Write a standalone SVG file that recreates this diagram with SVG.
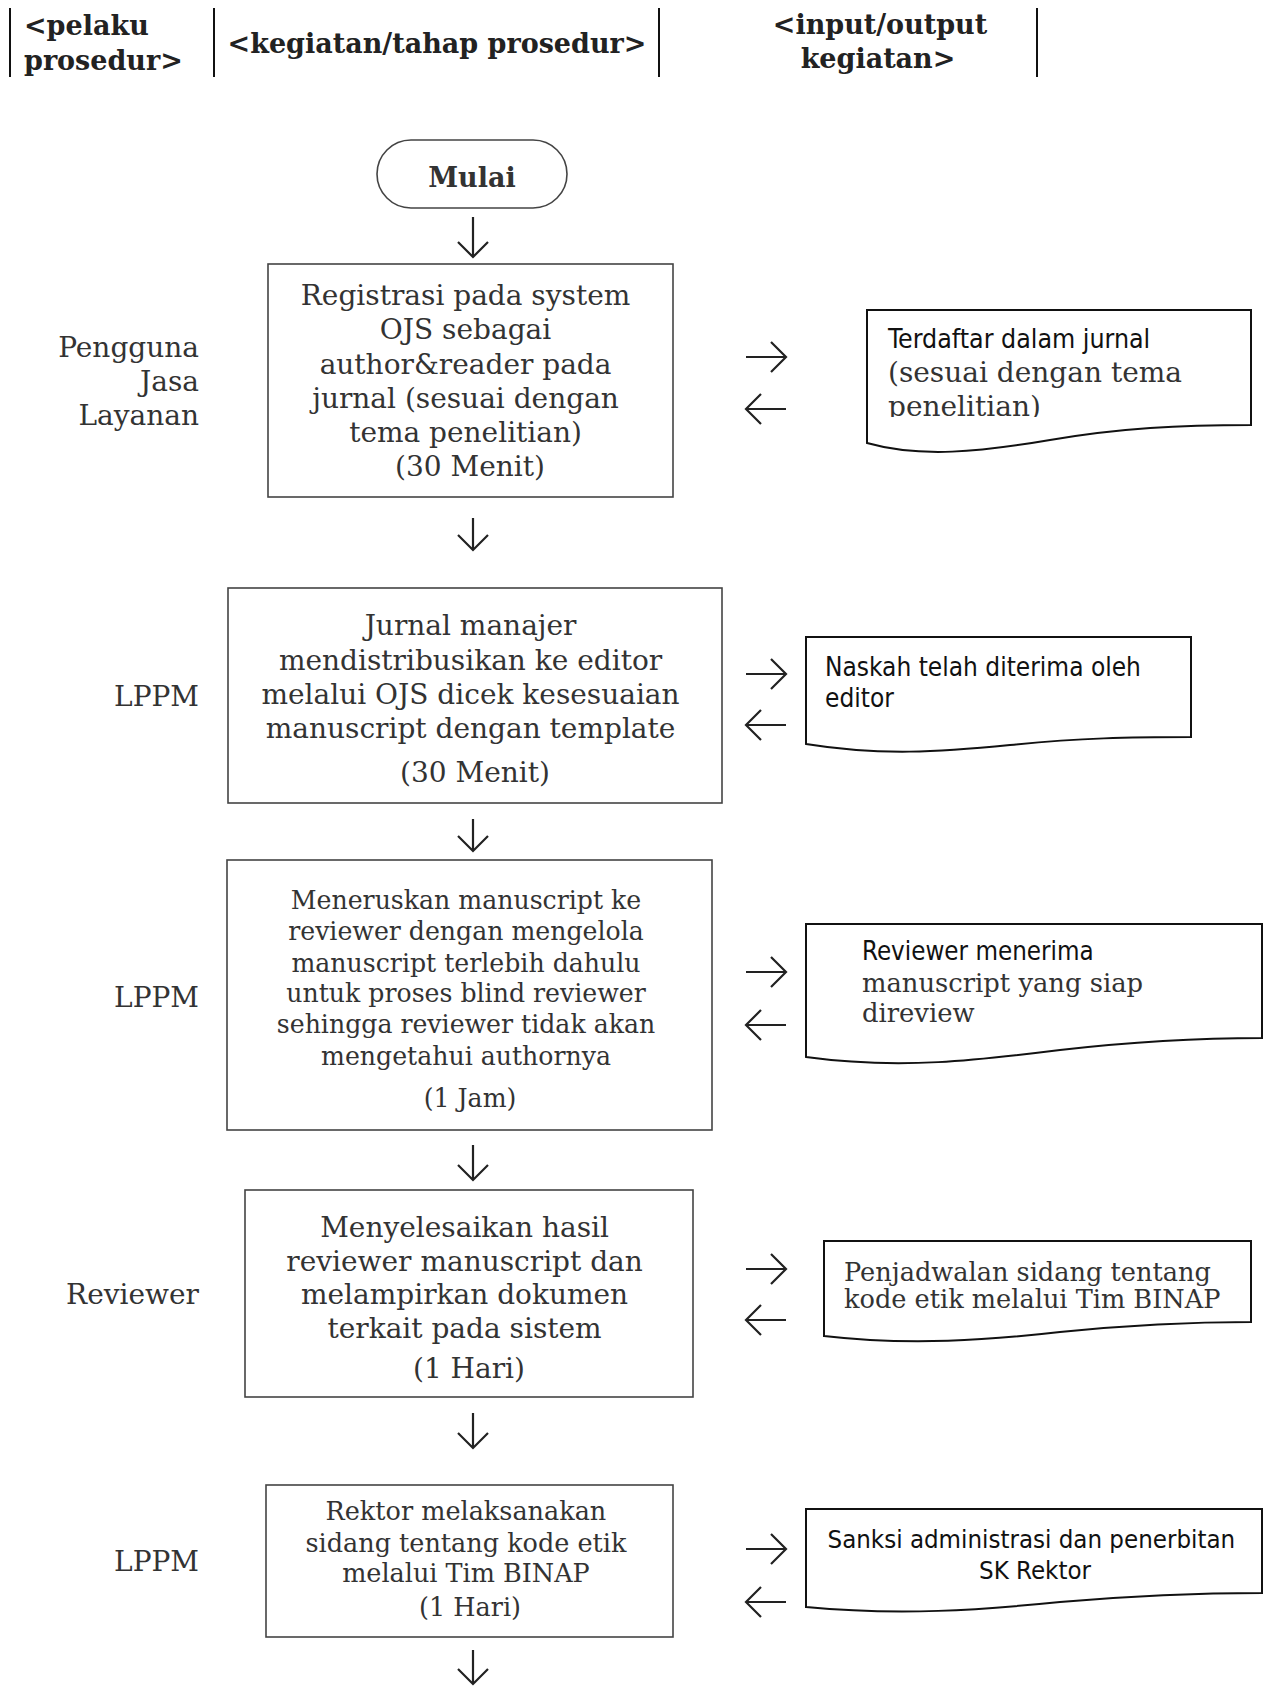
<svg xmlns="http://www.w3.org/2000/svg" width="1264" height="1686" viewBox="0 0 1264 1686">
<style>
.hd{font-family:"DejaVu Serif","Liberation Serif",serif;font-weight:bold;font-size:27px;fill:#222}
.sr{font-family:"DejaVu Serif","Liberation Serif",serif;fill:#333}
.ss{font-family:"DejaVu Sans Condensed","DejaVu Sans","Liberation Sans",sans-serif;fill:#111}
.box{fill:#fff;stroke:#444;stroke-width:1.6}
.doc{fill:#fff;stroke:#111;stroke-width:2}
.ln{stroke:#111;stroke-width:2;fill:none}
.ar{stroke:#222;stroke-width:2.2;fill:none}
.c{text-anchor:middle}
.r{text-anchor:end}
</style>
<defs>
<clipPath id="clip1"><rect x="860" y="300" width="400" height="117"/></clipPath>
</defs>
<rect width="1264" height="1686" fill="#fff"/>

<g id="header">
<line class="ln" x1="10" y1="8" x2="10" y2="77"/>
<line class="ln" x1="214" y1="8" x2="214" y2="77"/>
<line class="ln" x1="659" y1="8" x2="659" y2="77"/>
<line class="ln" x1="1037" y1="8" x2="1037" y2="77"/>
<text class="hd" x="24" y="35">&lt;pelaku</text>
<text class="hd" x="24" y="70">prosedur&gt;</text>
<text class="hd c" x="437" y="53">&lt;kegiatan/tahap prosedur&gt;</text>
<text class="hd c" x="880" y="34">&lt;input/output</text>
<text class="hd c" x="878" y="68">kegiatan&gt;</text>
</g>

<g id="lanes" class="sr" font-size="28">
<text class="r" x="199" y="357">Pengguna</text>
<text class="r" x="199" y="391">Jasa</text>
<text class="r" x="199" y="425">Layanan</text>
<text class="r" x="199" y="706">LPPM</text>
<text class="r" x="199" y="1007">LPPM</text>
<text class="r" x="199" y="1304">Reviewer</text>
<text class="r" x="199" y="1571">LPPM</text>
</g>

<g id="connectors">
<path class="ar" d="M473,217V257M458,242L473,257L488,242"/>
<path class="ar" d="M473,518V550M458,535L473,550L488,535"/>
<path class="ar" d="M473,819V851M458,836L473,851L488,836"/>
<path class="ar" d="M473,1145V1180M458,1165L473,1180L488,1165"/>
<path class="ar" d="M473,1413V1448M458,1433L473,1448L488,1433"/>
<path class="ar" d="M473,1650V1684M458,1669L473,1684L488,1669"/>
<path class="ar" d="M746,357H786M771,342L786,357L771,372"/>
<path class="ar" d="M786,409H746M761,394L746,409L761,424"/>
<path class="ar" d="M746,674H786M771,659L786,674L771,689"/>
<path class="ar" d="M786,725H746M761,710L746,725L761,740"/>
<path class="ar" d="M746,972H786M771,957L786,972L771,987"/>
<path class="ar" d="M786,1025H746M761,1010L746,1025L761,1040"/>
<path class="ar" d="M746,1269H786M771,1254L786,1269L771,1284"/>
<path class="ar" d="M786,1320H746M761,1305L746,1320L761,1335"/>
<path class="ar" d="M746,1549H786M771,1534L786,1549L771,1564"/>
<path class="ar" d="M786,1602H746M761,1587L746,1602L761,1617"/>
</g>

<g id="mulai">
<rect class="box" x="377" y="140" width="190" height="68" rx="34"/>
<text class="sr c" x="472" y="187" font-size="27" font-weight="bold" fill="#222">Mulai</text>
</g>

<g id="step1">
<rect class="box" x="268" y="264" width="405" height="233"/>
<text class="sr c" font-size="28">
<tspan x="470" y="305">Registrasi pada system</tspan>
<tspan x="470" y="339">OJS sebagai</tspan>
<tspan x="470" y="374">author&amp;reader pada</tspan>
<tspan x="470" y="408">jurnal (sesuai dengan</tspan>
<tspan x="470" y="442">tema penelitian)</tspan>
<tspan x="470" y="476">(30 Menit)</tspan>
</text>
</g>

<g id="doc1">
<path class="doc" d="M867,310H1251V425C1180,425 1120,428 1050,440C980,452 920,458 867,443Z"/>
<text class="ss" x="888" y="348" font-size="26.5">Terdaftar dalam jurnal</text>
<text class="sr" font-size="28" clip-path="url(#clip1)">
<tspan x="888" y="382">(sesuai dengan tema</tspan>
<tspan x="888" y="416">penelitian)</tspan>
</text>
</g>

<g id="step2">
<rect class="box" x="228" y="588" width="494" height="215"/>
<text class="sr c" font-size="28">
<tspan x="475" y="635">Jurnal manajer</tspan>
<tspan x="475" y="670">mendistribusikan ke editor</tspan>
<tspan x="475" y="704">melalui OJS dicek kesesuaian</tspan>
<tspan x="475" y="738">manuscript dengan template</tspan>
<tspan x="475" y="782">(30 Menit)</tspan>
</text>
</g>

<g id="doc2">
<path class="doc" d="M806,637H1191V737C1130,737 1080,738 1010,745C940,752 880,756 806,744Z"/>
<text class="ss" font-size="26">
<tspan x="825" y="676">Naskah telah diterima oleh</tspan>
<tspan x="825" y="707">editor</tspan>
</text>
</g>

<g id="step3">
<rect class="box" x="227" y="860" width="485" height="270"/>
<text class="sr c" font-size="25.2">
<tspan x="470" y="909">Meneruskan manuscript ke</tspan>
<tspan x="470" y="940">reviewer dengan mengelola</tspan>
<tspan x="470" y="972">manuscript terlebih dahulu</tspan>
<tspan x="470" y="1002">untuk proses blind reviewer</tspan>
<tspan x="470" y="1033">sehingga reviewer tidak akan</tspan>
<tspan x="470" y="1065">mengetahui authornya</tspan>
<tspan x="470" y="1107">(1 Jam)</tspan>
</text>
</g>

<g id="doc3">
<path class="doc" d="M806,924H1262V1038C1190,1038 1130,1042 1060,1050C980,1060 900,1070 806,1057Z"/>
<text class="ss" x="862" y="960" font-size="25.7">Reviewer menerima</text>
<text class="sr" font-size="25.8">
<tspan x="862" y="992">manuscript yang siap</tspan>
<tspan x="862" y="1022">direview</tspan>
</text>
</g>

<g id="step4">
<rect class="box" x="245" y="1190" width="448" height="207"/>
<text class="sr c" font-size="28">
<tspan x="469" y="1237">Menyelesaikan hasil</tspan>
<tspan x="469" y="1271">reviewer manuscript dan</tspan>
<tspan x="469" y="1304">melampirkan dokumen</tspan>
<tspan x="469" y="1338">terkait pada sistem</tspan>
<tspan x="469" y="1378">(1 Hari)</tspan>
</text>
</g>

<g id="doc4">
<path class="doc" d="M824,1241H1251V1322C1190,1322 1130,1325 1060,1332C990,1340 910,1346 824,1336Z"/>
<text class="sr" font-size="25.6">
<tspan x="844" y="1281">Penjadwalan sidang tentang</tspan>
<tspan x="844" y="1308">kode etik melalui Tim BINAP</tspan>
</text>
</g>

<g id="step5">
<rect class="box" x="266" y="1485" width="407" height="152"/>
<text class="sr c" font-size="25.5">
<tspan x="470" y="1520">Rektor melaksanakan</tspan>
<tspan x="470" y="1552">sidang tentang kode etik</tspan>
<tspan x="470" y="1582">melalui Tim BINAP</tspan>
<tspan x="470" y="1616">(1 Hari)</tspan>
</text>
</g>

<g id="doc5">
<path class="doc" d="M806,1509H1262V1593C1190,1593 1130,1596 1060,1602C980,1610 900,1616 806,1607Z"/>
<text class="ss c" font-size="25.6">
<tspan x="1035" y="1548">Sanksi administrasi dan penerbitan</tspan>
<tspan x="1035" y="1579">SK Rektor</tspan>
</text>
</g>
</svg>
